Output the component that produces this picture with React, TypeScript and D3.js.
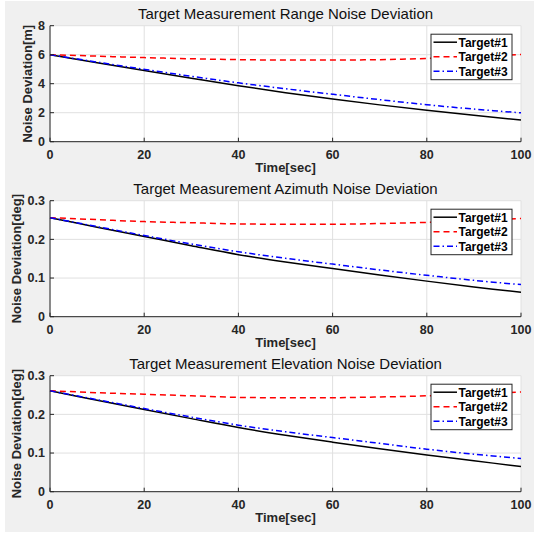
import React from "react";
import * as d3 from "d3";

const time = [0, 10, 20, 30, 40, 50, 60, 70, 80, 90, 100];
const xTicks = [0, 20, 40, 60, 80, 100];

const rangeT1 = [6.0, 5.45, 4.91, 4.38, 3.86, 3.38, 2.95, 2.54, 2.17, 1.82, 1.5];
const rangeT2 = [6.0, 5.9, 5.8, 5.72, 5.66, 5.63, 5.63, 5.66, 5.74, 5.86, 6.02];
const rangeT3 = [6.0, 5.49, 4.99, 4.51, 4.06, 3.65, 3.27, 2.9, 2.55, 2.25, 1.99];
const rangeTicks = [0, 2, 4, 6, 8];

const azT1 = [0.256, 0.2315, 0.2075, 0.1835, 0.1605, 0.1415, 0.1245, 0.108, 0.092, 0.077, 0.063];
const azT2 = [0.256, 0.251, 0.246, 0.243, 0.24, 0.239, 0.239, 0.241, 0.244, 0.249, 0.254];
const azT3 = [0.256, 0.233, 0.21, 0.188, 0.168, 0.151, 0.136, 0.121, 0.107, 0.094, 0.083];

const elT1 = [0.261, 0.2365, 0.2125, 0.189, 0.166, 0.146, 0.128, 0.111, 0.095, 0.08, 0.065];
const elT2 = [0.261, 0.256, 0.252, 0.248, 0.244, 0.243, 0.243, 0.245, 0.248, 0.253, 0.258];
const elT3 = [0.261, 0.238, 0.215, 0.193, 0.172, 0.155, 0.14, 0.125, 0.11, 0.097, 0.086];
const degTicks = [0, 0.1, 0.2, 0.3];

const seriesNames = ["Target#1", "Target#2", "Target#3"];
const seriesColors = ["#000000", "#ff0000", "#0000ff"];
const seriesDash = ["none", "6,4", "6,3,1.5,3"];

const titles = [
  "Target Measurement Range Noise Deviation",
  "Target Measurement Azimuth Noise Deviation",
  "Target Measurement Elevation Noise Deviation",
];
const yLabels = ["Noise Deviation[m]", "Noise Deviation[deg]", "Noise Deviation[deg]"];
const xLabel = "Time[sec]";

const FONT = "'Liberation Sans', Arial, Helvetica, sans-serif";
const AX = "#262626";
const GRID = "#e0e0e0";

type PanelProps = {
  top: number;
  series: number[][];
  yTicks: number[];
  yMax: number;
  title: string;
  yLabel: string;
  yLabelX: number;
  fmt: (v: number) => string;
};

const LEFT = 50;
const RIGHT = 521;
const H = 116;

function Panel({ top, series, yTicks, yMax, title, yLabel, yLabelX, fmt }: PanelProps) {
  const x = d3.scaleLinear().domain([0, 100]).range([LEFT, RIGHT]);
  const y = d3.scaleLinear().domain([0, yMax]).range([top + H, top]);
  const line = d3
    .line<number>()
    .x((_, i) => x(time[i]))
    .y((d) => y(d))
    .curve(d3.curveCatmullRom.alpha(0.5));
  const bottom = top + H;
  const lgTop = top + 8.5;
  const lgX = 431;
  return (
    <g>
      <rect x={LEFT} y={top} width={RIGHT - LEFT} height={H} fill="#ffffff" />
      {xTicks.map((t) => (
        <line key={"gx" + t} x1={x(t)} x2={x(t)} y1={top} y2={bottom} stroke={GRID} strokeWidth={1} />
      ))}
      {yTicks.map((t) => (
        <line key={"gy" + t} x1={LEFT} x2={RIGHT} y1={y(t)} y2={y(t)} stroke={GRID} strokeWidth={1} />
      ))}
      {series.map((s, i) => (
        <path
          key={"s" + i}
          d={line(s) || ""}
          fill="none"
          stroke={seriesColors[i]}
          strokeWidth={1.5}
          strokeDasharray={seriesDash[i]}
        />
      ))}
      <line x1={LEFT} x2={RIGHT} y1={bottom} y2={bottom} stroke={AX} strokeWidth={1} />
      <line x1={LEFT} x2={LEFT} y1={top} y2={bottom} stroke={AX} strokeWidth={1} />
      {xTicks.map((t) => (
        <g key={"tx" + t}>
          <line x1={x(t)} x2={x(t)} y1={bottom} y2={bottom - 4} stroke={AX} strokeWidth={1} />
          <text
            x={x(t)}
            y={bottom + 17.5}
            textAnchor="middle"
            fontFamily={FONT}
            fontWeight="bold"
            fontSize={12.5}
            fill={AX}
          >
            {t}
          </text>
        </g>
      ))}
      {yTicks.map((t) => (
        <g key={"ty" + t}>
          <line x1={LEFT} x2={LEFT + 4} y1={y(t)} y2={y(t)} stroke={AX} strokeWidth={1} />
          <text
            x={LEFT - 5}
            y={y(t) + 4.4}
            textAnchor="end"
            fontFamily={FONT}
            fontWeight="bold"
            fontSize={12.5}
            fill={AX}
          >
            {fmt(t)}
          </text>
        </g>
      ))}
      <text
        x={(LEFT + RIGHT) / 2}
        y={top - 6.3}
        textAnchor="middle"
        fontFamily={FONT}
        fontSize={15}
        fill="#111"
      >
        {title}
      </text>
      <text
        x={(LEFT + RIGHT) / 2}
        y={bottom + 30}
        textAnchor="middle"
        fontFamily={FONT}
        fontWeight="bold"
        fontSize={13}
        fill={AX}
      >
        {xLabel}
      </text>
      <text
        transform={`translate(${yLabelX},${(top + bottom) / 2}) rotate(-90)`}
        textAnchor="middle"
        fontFamily={FONT}
        fontWeight="bold"
        fontSize={13}
        fill={AX}
      >
        {yLabel}
      </text>
      <rect x={lgX} y={lgTop} width={81} height={45.5} fill="#ffffff" stroke={AX} strokeWidth={1} />
      {seriesNames.map((n, i) => {
        const ry = lgTop + 8 + i * 14.5;
        return (
          <g key={"lg" + i}>
            <line
              x1={lgX + 2.5}
              x2={lgX + 26}
              y1={ry}
              y2={ry}
              stroke={seriesColors[i]}
              strokeWidth={1.5}
              strokeDasharray={seriesDash[i]}
            />
            <text
              x={lgX + 27.5}
              y={ry + 4.3}
              fontFamily={FONT}
              fontWeight="bold"
              fontSize={12}
              fill="#000"
            >
              {n}
            </text>
          </g>
        );
      })}
    </g>
  );
}

export default function App() {
  const fmtInt = (v: number) => String(v);
  const fmtDeg = (v: number) => (v === 0 ? "0" : d3.format(".1f")(v));
  return (
    <svg
      width={534}
      height={533}
      style={{ position: "fixed", left: 0, top: 0, display: "block" }}
      xmlns="http://www.w3.org/2000/svg"
    >
      <rect x={0} y={0} width={534} height={533} fill="#ffffff" />
      <rect x={5} y={1} width={529} height={531} fill="#f0f0f0" />
      <Panel
        top={25.7}
        series={[rangeT1, rangeT2, rangeT3]}
        yTicks={rangeTicks}
        yMax={8}
        title={titles[0]}
        yLabel={yLabels[0]}
        yLabelX={32}
        fmt={fmtInt}
      />
      <Panel
        top={200.7}
        series={[azT1, azT2, azT3]}
        yTicks={degTicks}
        yMax={0.3}
        title={titles[1]}
        yLabel={yLabels[1]}
        yLabelX={20.5}
        fmt={fmtDeg}
      />
      <Panel
        top={375.7}
        series={[elT1, elT2, elT3]}
        yTicks={degTicks}
        yMax={0.3}
        title={titles[2]}
        yLabel={yLabels[2]}
        yLabelX={20.5}
        fmt={fmtDeg}
      />
    </svg>
  );
}
